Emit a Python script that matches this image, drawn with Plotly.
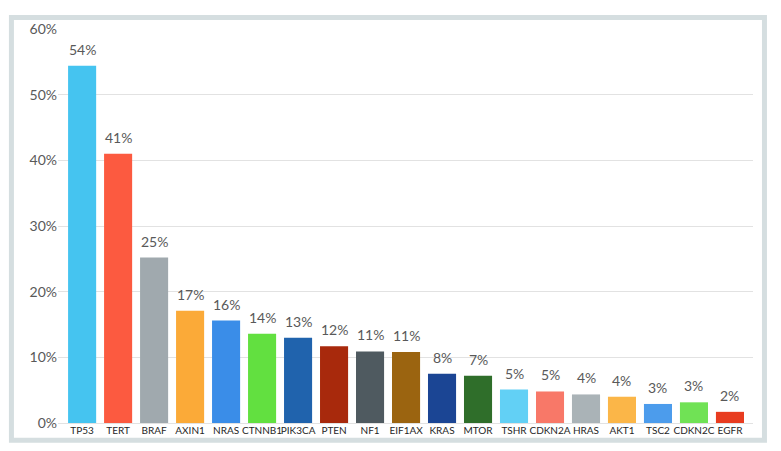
import plotly.graph_objects as go

genes = ["TP53", "TERT", "BRAF", "AXIN1", "NRAS", "CTNNB1", "PIK3CA", "PTEN", "NF1", "EIF1AX",
         "KRAS", "MTOR", "TSHR", "CDKN2A", "HRAS", "AKT1", "TSC2", "CDKN2C", "EGFR"]
freq = [54.4, 41.0, 25.2, 17.1, 15.6, 13.6, 13.0, 11.7, 10.9, 10.8,
        7.5, 7.2, 5.1, 4.8, 4.35, 4.0, 2.9, 3.15, 1.7]
labels = ["54%", "41%", "25%", "17%", "16%", "14%", "13%", "12%", "11%", "11%",
          "8%", "7%", "5%", "5%", "4%", "4%", "3%", "3%", "2%"]
colors = ["#45c4f0", "#fc5a40", "#a0a9ae", "#fbaa38", "#3a8de8", "#62e040", "#2063ad", "#a8290c",
          "#4f5a60", "#9b6410", "#1b4594", "#2f6e2a", "#62d0f5", "#f87868", "#aab3b7", "#fbb648",
          "#4c9cec", "#70e255", "#e83c20"]
y_ticks = [0, 10, 20, 30, 40, 50, 60]
y_tick_text = ["0%", "10%", "20%", "30%", "40%", "50%", "60%"]

FONT = "Lato"

fig = go.Figure()
fig.add_trace(go.Bar(
    x=genes,
    y=freq,
    marker=dict(color=colors, line=dict(width=0)),
    width=0.78,
    hovertemplate="%{x}: %{y}%<extra></extra>",
))

# value labels above bars
for g, v, t in zip(genes, freq, labels):
    fig.add_annotation(x=g, y=v, text=t, showarrow=False, yanchor="bottom", yshift=6,
                       font=dict(family=FONT, size=14, color="#595959"))

# page body has an 8px margin, so the figure is sized to fit inside the window
fig.update_layout(
    width=773,
    height=443,
    paper_bgcolor="white",
    plot_bgcolor="white",
    margin=dict(l=50, r=28, t=15, b=28),
    showlegend=False,
    font=dict(family=FONT, color="#595959"),
    shapes=[dict(type="rect", xref="paper", yref="paper", x0=-0.067, x1=1.0165, y0=-0.044, y1=1.029,
                 line=dict(color="#d5dee0", width=5), layer="below")],
)
fig.update_xaxes(
    type="category",
    range=[-0.67, 18.64],
    tickangle=0,
    ticks="",
    showgrid=False,
    showline=False,
    tickfont=dict(family=FONT, size=10, color="#262626"),
)
fig.update_yaxes(
    range=[0, 60],
    tickvals=y_ticks,
    ticktext=y_tick_text,
    showgrid=True,
    gridcolor="#e2e2e2",
    gridwidth=1,
    zeroline=True,
    zerolinecolor="#e2e2e2",
    zerolinewidth=1,
    ticks="",
    tickfont=dict(family=FONT, size=14, color="#595959"),
)

fig.write_html("out.html")
